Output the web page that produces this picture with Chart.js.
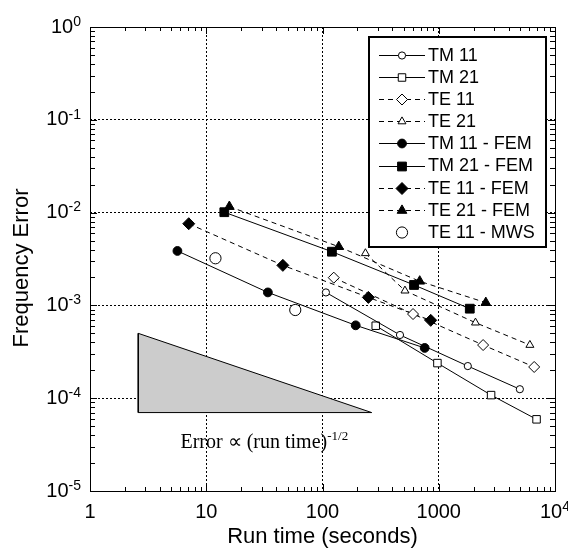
<!DOCTYPE html>
<html>
<head>
<meta charset="utf-8">
<script src="https://cdn.jsdelivr.net/npm/chart.js@4.4.0/dist/chart.umd.min.js"></script>
<style>
  html, body { margin: 0; padding: 0; background: #fff; }
</style>
</head>
<body>
<canvas id="chart" width="568" height="550"></canvas>
<script>
// run time (seconds) / frequency error
var tm11X = [107, 464, 1778, 4985];
var tm11Y = [1.38e-3, 4.8e-4, 2.22e-4, 1.25e-4];
var tm21X = [287, 974, 2820, 6940];
var tm21Y = [6.04e-4, 2.39e-4, 1.08e-4, 5.92e-5];
var te11X = [125, 601, 2408, 6620];
var te11Y = [1.99e-3, 8.07e-4, 3.74e-4, 2.17e-4];
var te21X = [234, 512, 2070, 6080];
var te21Y = [3.64e-3, 1.44e-3, 6.51e-4, 3.74e-4];
var tm11FemX = [5.65, 33.9, 193, 757];
var tm11FemY = [3.86e-3, 1.38e-3, 6.1e-4, 3.48e-4];
var tm21FemX = [14.3, 120.5, 613, 1849];
var tm21FemY = [1.01e-2, 3.79e-3, 1.66e-3, 9.22e-4];
var te11FemX = [7.07, 45.6, 248, 853];
var te11FemY = [7.59e-3, 2.7e-3, 1.22e-3, 6.9e-4];
var te21FemX = [15.8, 138, 686, 2540];
var te21FemY = [1.16e-2, 4.29e-3, 1.82e-3, 1.07e-3];
var te11MwsX = [12.0, 58.3];
var te11MwsY = [3.22e-3, 8.92e-4];

// slope triangle, error ~ t^-1/2
var slopeX = [2.6, 2.6, 265, 2.6];
var slopeY = [5e-4, 7e-5, 7e-5, 5e-4];

var xTickValues = [1, 10, 100, 1000, 10000];
var xTickBase = ['1', '10', '100', '1000', '10'];
var xTickExp = ['', '', '', '', '4'];
var yTickValues = [1e-5, 1e-4, 1e-3, 1e-2, 1e-1, 1];
var yTickExp = ['-5', '-4', '-3', '-2', '-1', '0'];

var SANS = '"Liberation Sans", Arial, Helvetica, sans-serif';
var SERIF = '"Liberation Serif", "Times New Roman", serif';

function pts(xs, ys) {
  return xs.map(function(x, i) { return {x: x, y: ys[i]}; });
}

function series(label, xs, ys, style, radius, filled, dashed, line) {
  return {
    label: label,
    data: pts(xs, ys),
    showLine: line,
    borderColor: '#000',
    borderWidth: 1,
    borderDash: dashed ? [5, 4] : [],
    pointStyle: style,
    pointRadius: radius,
    pointBorderWidth: 1,
    pointBorderColor: '#000',
    pointBackgroundColor: filled ? '#000' : '#fff',
    fill: false,
    order: 1
  };
}

var datasets = [
  series('TM 11', tm11X, tm11Y, 'circle', 3.6, false, false, true),
  series('TM 21', tm21X, tm21Y, 'rect', 5.3, false, false, true),
  series('TE 11', te11X, te11Y, 'rectRot', 5.5, false, true, true),
  series('TE 21', te21X, te21Y, 'triangle', 4.6, false, true, true),
  series('TM 11 - FEM', tm11FemX, tm11FemY, 'circle', 4.4, true, false, true),
  series('TM 21 - FEM', tm21FemX, tm21FemY, 'rect', 6.2, true, false, true),
  series('TE 11 - FEM', te11FemX, te11FemY, 'rectRot', 6, true, true, true),
  series('TE 21 - FEM', te21FemX, te21FemY, 'triangle', 5.6, true, true, true),
  series('TE 11 - MWS', te11MwsX, te11MwsY, 'circle', 5.6, false, false, false)
];

datasets.push({
  label: 'slope',
  data: pts(slopeX, slopeY),
  showLine: true,
  borderColor: '#000',
  borderWidth: 1,
  backgroundColor: '#cccccc',
  fill: 'shape',
  pointRadius: 0,
  order: 5
});

// inward ticks, box round the plot, tick labels
var framePlugin = {
  id: 'frame',
  afterDatasetsDraw: function(chart) {
    var ctx = chart.ctx, a = chart.chartArea;
    var xs = chart.scales.x, ys = chart.scales.y;
    ctx.save();
    ctx.strokeStyle = '#000';
    ctx.lineWidth = 1;
    ctx.setLineDash([]);
    ctx.beginPath();
    for (var e = 0; e < 4; e++) {
      for (var m = 1; m < 10; m++) {
        var px = Math.round(xs.getPixelForValue(m * Math.pow(10, e))) + 0.5;
        var len = m === 1 ? 7 : 4;
        ctx.moveTo(px, a.bottom); ctx.lineTo(px, a.bottom - len);
        ctx.moveTo(px, a.top); ctx.lineTo(px, a.top + len);
      }
    }
    for (var k = -5; k < 0; k++) {
      for (var n = 1; n < 10; n++) {
        var py = Math.round(ys.getPixelForValue(n * Math.pow(10, k))) + 0.5;
        var l2 = n === 1 ? 7 : 5;
        ctx.moveTo(a.left, py); ctx.lineTo(a.left + l2, py);
        ctx.moveTo(a.right, py); ctx.lineTo(a.right - l2, py);
      }
    }
    ctx.stroke();
    ctx.strokeRect(Math.round(a.left) + 0.5, Math.round(a.top) + 0.5,
      Math.round(a.right - a.left), Math.round(a.bottom - a.top));

    ctx.fillStyle = '#000';
    ctx.textBaseline = 'middle';
    var big = '20px ' + SANS, small = '14px ' + SANS;
    for (var i = 0; i < yTickValues.length; i++) {
      var yy = ys.getPixelForValue(yTickValues[i]);
      ctx.font = small;
      var we = ctx.measureText(yTickExp[i]).width;
      ctx.textAlign = 'right';
      ctx.fillText(yTickExp[i], 81, yy - 5);
      ctx.font = big;
      ctx.fillText('10', 81 - we, yy);
    }
    for (var j = 0; j < xTickValues.length; j++) {
      var xx = xs.getPixelForValue(xTickValues[j]);
      ctx.font = big;
      var wb = ctx.measureText(xTickBase[j]).width;
      ctx.font = small;
      var wx = ctx.measureText(xTickExp[j]).width;
      var start = xx - (wb + wx) / 2;
      ctx.textAlign = 'left';
      ctx.font = big;
      ctx.fillText(xTickBase[j], start, 512);
      ctx.font = small;
      ctx.fillText(xTickExp[j], start + wb, 507);
    }

    // y axis title
    ctx.save();
    ctx.translate(22, 268);
    ctx.rotate(-Math.PI / 2);
    ctx.textAlign = 'center';
    ctx.font = '22px ' + SANS;
    ctx.fillText('Frequency Error', 0, 0);
    ctx.restore();

    // slope note
    var tx = xs.getPixelForValue(6.0), ty = ys.getPixelForValue(2.9e-5);
    ctx.textBaseline = 'alphabetic';
    ctx.textAlign = 'left';
    ctx.font = '20px ' + SERIF;
    var note = 'Error \u221D (run time)';
    ctx.fillText(note, tx, ty);
    var wn = ctx.measureText(note).width;
    ctx.font = '13px ' + SERIF;
    ctx.fillText('-1/2', tx + wn, ty - 8);
    ctx.restore();
  }
};

// legend in a framed box, top right
var legendPlugin = {
  id: 'boxLegend',
  afterDraw: function(chart) {
    var ctx = chart.ctx;
    ctx.save();
    ctx.fillStyle = '#fff';
    ctx.fillRect(369, 37, 177, 210);
    ctx.strokeStyle = '#000';
    ctx.lineWidth = 2;
    ctx.strokeRect(369, 37, 177, 210);
    ctx.font = '18px ' + SANS;
    ctx.textBaseline = 'middle';
    ctx.textAlign = 'left';
    for (var i = 0; i < 9; i++) {
      var ds = chart.data.datasets[i];
      var y = 55 + i * 22.1;
      ctx.lineWidth = 1;
      ctx.strokeStyle = '#000';
      if (ds.showLine) {
        ctx.setLineDash(ds.borderDash);
        ctx.beginPath();
        ctx.moveTo(379, Math.round(y) + 0.5);
        ctx.lineTo(425, Math.round(y) + 0.5);
        ctx.stroke();
      }
      ctx.setLineDash([]);
      ctx.fillStyle = ds.pointBackgroundColor;
      Chart.helpers.drawPoint(ctx, {
        pointStyle: ds.pointStyle,
        radius: ds.pointRadius,
        borderWidth: 1,
        rotation: 0
      }, 402, Math.round(y) + 0.5);
      ctx.fillStyle = '#000';
      ctx.fillText(ds.label, 428, y + 1);
    }
    ctx.restore();
  }
};

var chart = new Chart(document.getElementById('chart'), {
  type: 'scatter',
  data: { datasets: datasets },
  options: {
    responsive: false,
    animation: false,
    events: [],
    layout: { padding: { left: 0, right: 13, top: 27, bottom: 0 } },
    plugins: {
      legend: { display: false },
      tooltip: { enabled: false }
    },
    scales: {
      x: {
        type: 'logarithmic',
        min: 1,
        max: 10000,
        afterBuildTicks: function(s) { s.ticks = xTickValues.map(function(v) { return {value: v}; }); },
        afterFit: function(s) { s.height = 59; },
        ticks: { display: false },
        grid: { color: '#000', lineWidth: 1, drawTicks: false },
        border: { display: false, dash: [2, 2] },
        title: {
          display: true,
          text: 'Run time (seconds)',
          color: '#000',
          font: { family: SANS, size: 22 },
          padding: { top: 0, bottom: 0 }
        }
      },
      y: {
        type: 'logarithmic',
        min: 1e-5,
        max: 1,
        afterBuildTicks: function(s) { s.ticks = yTickValues.map(function(v) { return {value: v}; }); },
        afterFit: function(s) { s.width = 90; },
        ticks: { display: false },
        grid: { color: '#000', lineWidth: 1, drawTicks: false },
        border: { display: false, dash: [2, 2] },
        title: { display: false }
      }
    }
  },
  plugins: [framePlugin, legendPlugin]
});
</script>
</body>
</html>
